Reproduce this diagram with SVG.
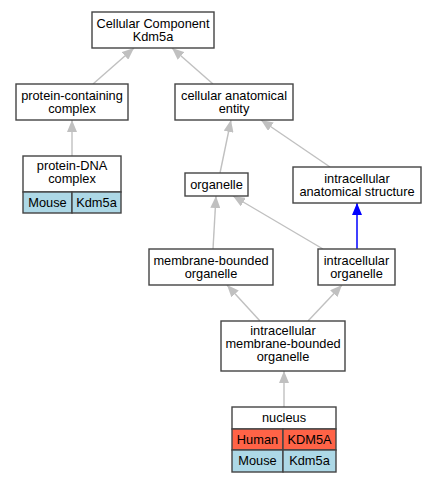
<svg xmlns="http://www.w3.org/2000/svg" width="437" height="483" viewBox="0 0 437 483">
<style>
text{font-family:"Liberation Sans",Arial,sans-serif;font-size:12.8px;fill:#000;text-anchor:middle}
.box{fill:#fff;stroke:#444;stroke-width:1.4}
.hum{fill:#ff6347;stroke:#444;stroke-width:1.4}
.mou{fill:#add8e6;stroke:#444;stroke-width:1.4}
.e{stroke:#c0c0c0;stroke-width:1.4;fill:none}
.eb{stroke:#0000ff;stroke-width:1.5;fill:none}
</style>
<defs>
<marker id="ag" markerUnits="userSpaceOnUse" markerWidth="12" markerHeight="10" refX="12" refY="5" orient="auto"><path d="M0,0L12,5L0,10z" fill="#c0c0c0"/></marker>
<marker id="ab" markerUnits="userSpaceOnUse" markerWidth="12" markerHeight="10" refX="12" refY="5" orient="auto"><path d="M0,0L12,5L0,10z" fill="#0000ff"/></marker>
</defs>
<rect width="437" height="483" fill="#fff"/>
<g id="connectors">
<line class="e" x1="93" y1="84" x2="134" y2="48" marker-end="url(#ag)"/>
<line class="e" x1="213" y1="84" x2="172" y2="48" marker-end="url(#ag)"/>
<line class="e" x1="72" y1="156" x2="72" y2="120" marker-end="url(#ag)"/>
<line class="e" x1="220" y1="173" x2="231" y2="120" marker-end="url(#ag)"/>
<line class="e" x1="330" y1="167" x2="261" y2="120" marker-end="url(#ag)"/>
<line class="eb" x1="357" y1="249" x2="357" y2="203" marker-end="url(#ab)"/>
<line class="e" x1="323" y1="249" x2="233" y2="196" marker-end="url(#ag)"/>
<line class="e" x1="213" y1="249" x2="216" y2="196" marker-end="url(#ag)"/>
<line class="e" x1="260" y1="321" x2="227" y2="285" marker-end="url(#ag)"/>
<line class="e" x1="308" y1="321" x2="342" y2="285" marker-end="url(#ag)"/>
<line class="e" x1="284" y1="407" x2="284" y2="371" marker-end="url(#ag)"/>
</g>
<g id="cellular-component">
<rect class="box" x="92" y="12" width="122" height="36"/>
<text x="153" y="27.5">Cellular Component</text>
<text x="153" y="40.5">Kdm5a</text>
</g>
<g id="protein-containing-complex">
<rect class="box" x="16" y="84" width="112" height="36"/>
<text x="72" y="99.5">protein-containing</text>
<text x="72" y="112.5">complex</text>
</g>
<g id="cellular-anatomical-entity">
<rect class="box" x="175" y="84" width="118" height="36"/>
<text x="234" y="99.5">cellular anatomical</text>
<text x="234" y="112.5">entity</text>
</g>
<g id="protein-dna-complex">
<rect class="box" x="23" y="156" width="98" height="36"/>
<text x="72" y="170">protein-DNA</text>
<text x="72" y="183">complex</text>
<rect class="mou" x="23" y="192" width="49" height="21"/>
<rect class="mou" x="72" y="192" width="49" height="21"/>
<text x="47.5" y="206.5">Mouse</text>
<text x="96.5" y="206.5">Kdm5a</text>
</g>
<g id="organelle">
<rect class="box" x="185" y="173" width="63" height="23"/>
<text x="216.5" y="189">organelle</text>
</g>
<g id="intracellular-anatomical-structure">
<rect class="box" x="293" y="167" width="128" height="36"/>
<text x="357" y="182.5">intracellular</text>
<text x="357" y="195.5">anatomical structure</text>
</g>
<g id="membrane-bounded-organelle">
<rect class="box" x="149" y="249" width="124" height="36"/>
<text x="211" y="264.5">membrane-bounded</text>
<text x="211" y="277.5">organelle</text>
</g>
<g id="intracellular-organelle">
<rect class="box" x="318" y="249" width="77" height="36"/>
<text x="356.5" y="264.5">intracellular</text>
<text x="356.5" y="277.5">organelle</text>
</g>
<g id="intracellular-membrane-bounded-organelle">
<rect class="box" x="221" y="321" width="124" height="50"/>
<text x="283" y="335">intracellular</text>
<text x="283" y="348">membrane-bounded</text>
<text x="283" y="361">organelle</text>
</g>
<g id="nucleus">
<rect class="box" x="232" y="407" width="104" height="22"/>
<text x="284" y="422">nucleus</text>
<rect class="hum" x="232" y="429" width="51" height="21"/>
<rect class="hum" x="283" y="429" width="53" height="21"/>
<text x="257.5" y="443.5">Human</text>
<text x="309.5" y="443.5">KDM5A</text>
<rect class="mou" x="232" y="450" width="51" height="22"/>
<rect class="mou" x="283" y="450" width="53" height="22"/>
<text x="257.5" y="465">Mouse</text>
<text x="309.5" y="465">Kdm5a</text>
</g>
</svg>
